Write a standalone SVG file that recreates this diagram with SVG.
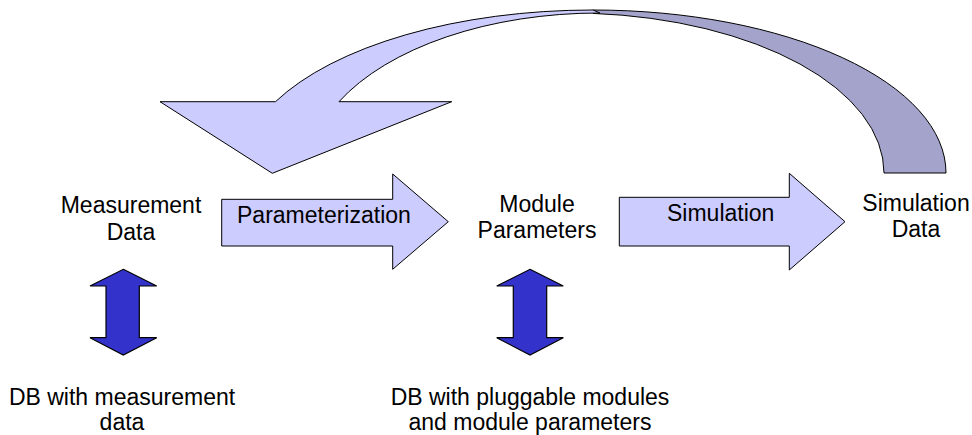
<svg xmlns="http://www.w3.org/2000/svg" width="972" height="435" viewBox="0 0 972 435">
<style>
text{font-family:"Liberation Sans",Arial,sans-serif;font-size:23px;fill:#000}
.c{text-anchor:middle}
.light{fill:#ccccff;stroke:#000;stroke-width:1;stroke-linejoin:miter}
.dark{fill:#a3a3cc;stroke:#000;stroke-width:1}
.dbl{fill:#3333cc;stroke:#000;stroke-width:1.2}
</style>
<g id="connectors">
<g id="feedback-arrow">
<path class="dark" d="M593,10 A353,163 0 0 1 946,173 L884,173 A314,160 0 0 0 593,13.4 Z"/>
<path class="light" d="M275.5,101.7 L160,101.7 L272.3,173.3 L451.7,101.7 L339,101.7 A291,160 0 0 1 600,13 L593,10 A353,163 0 0 0 275.5,101.7 Z"/>
</g>
<g id="parameterization-arrow">
<path class="light" d="M221.7,199.3 L392.7,199.3 L392.7,174 L448.3,221.7 L392.7,269.3 L392.7,246 L221.7,246 Z"/>
<text x="237" y="223">Parameterization</text>
</g>
<g id="simulation-arrow">
<path class="light" d="M619.3,197.3 L789.3,197.3 L789.3,173.3 L845,221.7 L789.3,270 L789.3,246 L619.3,246 Z"/>
<text x="667" y="221">Simulation</text>
</g>
<g id="db-link-left">
<path class="dbl" d="M123.3,269.3 L156.7,286 L139.3,286 L139.3,337.7 L156.7,337.7 L123.3,355 L90,337.7 L106,337.7 L106,286 L90,286 Z"/>
</g>
<g id="db-link-middle">
<path class="dbl" d="M530,269.3 L563.3,286 L546.7,286 L546.7,337.7 L563.3,337.7 L530,355 L496.7,337.7 L513.3,337.7 L513.3,286 L496.7,286 Z"/>
</g>
</g>
<g id="measurement-data">
<text class="c" x="131" y="212.5">Measurement</text>
<text class="c" x="131" y="240">Data</text>
</g>
<g id="module-parameters">
<text class="c" x="537" y="212">Module</text>
<text class="c" x="537" y="238">Parameters</text>
</g>
<g id="simulation-data">
<text class="c" x="916" y="211">Simulation</text>
<text class="c" x="916" y="237">Data</text>
</g>
<g id="db-measurement">
<text class="c" x="122" y="405">DB with measurement</text>
<text class="c" x="122" y="430">data</text>
</g>
<g id="db-modules">
<text class="c" x="530" y="405">DB with pluggable modules</text>
<text class="c" x="530" y="430">and module parameters</text>
</g>
</svg>
